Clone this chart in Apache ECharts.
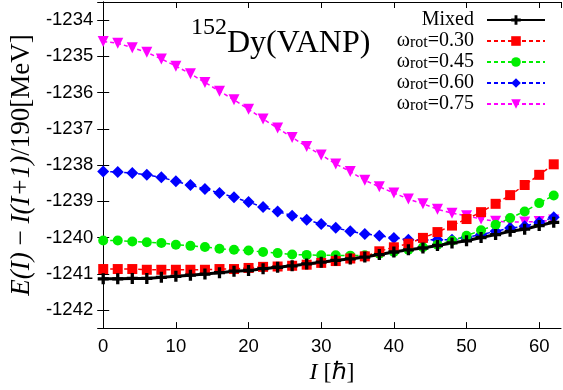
<!DOCTYPE html>
<html>
<head>
<meta charset="utf-8">
<script src="https://cdn.jsdelivr.net/npm/echarts@6/dist/echarts.min.js"></script>
<style>
  html, body { margin: 0; padding: 0; background: #fff; }
  #chart { width: 563px; height: 390px; }
</style>
</head>
<body>
<div id="chart"></div>
<script>
// spin I in units of hbar
const spins = [0,2,4,6,8,10,12,14,16,18,20,22,24,26,28,30,32,34,36,38,40,42,44,46,48,50,52,54,56,58,60,62];

const mixed = [-1241.14,-1241.14,-1241.13,-1241.13,-1241.10,-1241.07,-1241.04,-1241.01,-1240.97,-1240.93,-1240.91,-1240.86,-1240.82,-1240.78,-1240.73,-1240.68,
  -1240.63,-1240.59,-1240.54,-1240.47,-1240.40,-1240.34,-1240.29,-1240.22,-1240.15,-1240.09,-1240.00,-1239.92,-1239.83,-1239.77,-1239.67,-1239.58];
const w030 = [-1240.87,-1240.87,-1240.87,-1240.89,-1240.89,-1240.89,-1240.89,-1240.89,-1240.87,-1240.87,-1240.84,-1240.81,-1240.80,-1240.78,-1240.75,-1240.70,
  -1240.65,-1240.58,-1240.52,-1240.38,-1240.27,-1240.17,-1240.01,-1239.85,-1239.67,-1239.49,-1239.30,-1239.07,-1238.83,-1238.55,-1238.27,-1237.98];
const w045 = [-1240.08,-1240.08,-1240.11,-1240.13,-1240.15,-1240.20,-1240.23,-1240.26,-1240.31,-1240.34,-1240.36,-1240.40,-1240.43,-1240.47,-1240.48,-1240.49,
  -1240.49,-1240.50,-1240.49,-1240.45,-1240.40,-1240.34,-1240.27,-1240.20,-1240.09,-1239.95,-1239.80,-1239.65,-1239.46,-1239.28,-1239.05,-1238.84];
const w060 = [-1238.18,-1238.19,-1238.22,-1238.27,-1238.34,-1238.45,-1238.55,-1238.66,-1238.77,-1238.89,-1239.02,-1239.16,-1239.28,-1239.40,-1239.51,-1239.63,
  -1239.73,-1239.83,-1239.90,-1239.95,-1240.01,-1240.06,-1240.07,-1240.06,-1240.06,-1239.99,-1239.92,-1239.83,-1239.74,-1239.69,-1239.58,-1239.44];
const w075 = [-1234.59,-1234.64,-1234.76,-1234.89,-1235.07,-1235.27,-1235.48,-1235.72,-1235.96,-1236.20,-1236.46,-1236.73,-1236.98,-1237.24,-1237.49,-1237.72,
  -1237.97,-1238.18,-1238.42,-1238.60,-1238.77,-1238.94,-1239.07,-1239.22,-1239.33,-1239.40,-1239.49,-1239.55,-1239.57,-1239.57,-1239.56,-1239.52];

const names = ['Mixed', 'ωrot=0.30', 'ωrot=0.45', 'ωrot=0.60', 'ωrot=0.75'];

const serif = 'Liberation Serif';
const sans = 'Liberation Sans';
const plus = 'path://M3.5 0H6.5V3.5H10V6.5H6.5V10H3.5V6.5H0V3.5H3.5Z';

const pairs = (ys) => spins.map((x, i) => [x, ys[i]]);

const chart = echarts.init(document.getElementById('chart'));

const dashed = (name, ys, color, symbol, size, extra) => Object.assign({
  name: name,
  type: 'line',
  data: pairs(ys),
  symbol: symbol,
  symbolSize: size,
  showAllSymbol: true,
  itemStyle: { color: color },
  lineStyle: { color: color, width: 1.5, type: [4, 3] }
}, extra || {});

const mirrorAxis = {
  axisLine: { show: true, lineStyle: { color: '#000', width: 1 } },
  axisTick: { show: true, inside: true, length: 6, lineStyle: { color: '#000' } },
  axisLabel: { show: false },
  splitLine: { show: false }
};

const option = {
  animation: false,
  backgroundColor: '#fff',
  title: {
    text: '{s|152}{m|Dy(VANP)}',
    left: 191,
    top: 16,
    padding: 0,
    textStyle: {
      fontWeight: 'normal',
      rich: {
        s: { fontFamily: serif, fontSize: 24, fontWeight: 'normal', color: '#000', lineHeight: 20, verticalAlign: 'top' },
        m: { fontFamily: serif, fontSize: 32, fontWeight: 'normal', color: '#000', lineHeight: 44, verticalAlign: 'bottom' }
      }
    }
  },
  legend: {
    orient: 'vertical',
    right: 17,
    top: 10,
    align: 'right',
    itemWidth: 58,
    itemHeight: 12,
    itemGap: 1,
    padding: 0,
    data: names,
    formatter: function (n) {
      if (n === 'Mixed') return '{e|Mixed}';
      return '{w|ω}{r|rot}{e|=' + n.split('=')[1] + '}';
    },
    textStyle: {
      color: '#000',
      fontFamily: serif,
      fontSize: 20,
      rich: {
        w: { fontFamily: serif, fontSize: 20, color: '#000', lineHeight: 20 },
        e: { fontFamily: serif, fontSize: 20, color: '#000', lineHeight: 20, padding: [0, 8, 0, 0] },
        r: { fontFamily: serif, fontSize: 16, color: '#000', lineHeight: 6, verticalAlign: 'bottom' }
      }
    }
  },
  grid: { left: 98, right: 2, top: 2, bottom: 61, containLabel: false },
  xAxis: [{
    type: 'value',
    min: 0,
    max: 63,
    interval: 10,
    name: '{i|I} [ℏ]',
    nameLocation: 'middle',
    nameGap: 26,
    nameTextStyle: {
      fontFamily: serif, fontSize: 24, color: '#000',
      rich: { i: { fontFamily: serif, fontStyle: 'italic', fontSize: 24, color: '#000' } }
    },
    axisLine: { show: true, onZero: false, lineStyle: { color: '#000', width: 1 } },
    axisTick: { show: true, inside: true, length: 6, lineStyle: { color: '#000' } },
    axisLabel: {
      fontFamily: sans, fontSize: 18.5, color: '#000', margin: 9, showMaxLabel: false,
      formatter: v => (v % 10 === 0 ? String(v) : '')
    },
    splitLine: { show: false }
  }, Object.assign({ type: 'value', position: 'top', min: 0, max: 63, interval: 10 }, mirrorAxis)],
  yAxis: [{
    type: 'value',
    min: -1242.5,
    max: -1233.5,
    minInterval: 1,
    maxInterval: 1,
    name: '{i|E(I)} − {i|I(I+1)}/190[MeV]',
    nameLocation: 'middle',
    nameRotate: 90,
    nameGap: 60,
    nameTextStyle: {
      fontFamily: serif, fontSize: 27, color: '#000',
      rich: { i: { fontFamily: serif, fontStyle: 'italic', fontSize: 27, color: '#000' } }
    },
    axisLine: { show: true, onZero: false, lineStyle: { color: '#000', width: 1 } },
    axisTick: { show: true, inside: true, length: 6, lineStyle: { color: '#000' } },
    axisLabel: {
      fontFamily: sans, fontSize: 18.5, color: '#000', margin: 10,
      showMinLabel: false, showMaxLabel: false,
      formatter: v => (Number.isInteger(v) ? String(v) : '')
    },
    splitLine: { show: false }
  }, Object.assign({ type: 'value', position: 'right', min: -1242.5, max: -1233.5, minInterval: 1, maxInterval: 1 }, mirrorAxis)],
  series: [
    dashed(names[4], w075, '#ff00ff', 'triangle', 11, { symbolRotate: 180 }),
    dashed(names[3], w060, '#0000ff', 'diamond', 12),
    dashed(names[2], w045, '#00ee00', 'circle', 10),
    dashed(names[1], w030, '#ff0000', 'rect', 10),
    {
      name: names[0],
      type: 'line',
      data: pairs(mixed),
      symbol: plus,
      symbolSize: 11,
      showAllSymbol: true,
      itemStyle: { color: '#000' },
      lineStyle: { color: '#000', width: 3 }
    }
  ]
};

chart.setOption(option);
</script>
</body>
</html>
